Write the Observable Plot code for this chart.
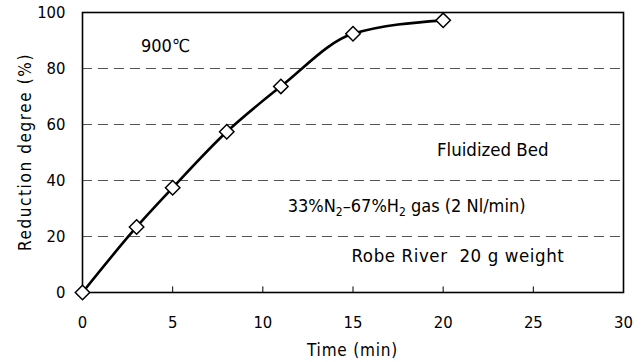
<!DOCTYPE html>
<html><head><meta charset="utf-8">
<script src="https://cdn.jsdelivr.net/npm/d3@7"></script>
<script src="https://cdn.jsdelivr.net/npm/@observablehq/plot@0.6"></script>
<style>
body{margin:0;background:#fff;}
svg{font-family:"DejaVu Sans Condensed","Liberation Sans",sans-serif;}
</style>
</head><body>
<div id="chart"></div>
<script>
const time = [0, 3, 5, 8, 11, 15, 20];
const reduction = [0, 23.4, 37.4, 57.4, 73.6, 92.4, 97.2];
const xTicks = [0, 5, 10, 15, 20, 25, 30];
const yTicks = [0, 20, 40, 60, 80, 100];
const gridY = [20, 40, 60, 80];
const tickMarksX = [5, 10, 15, 20, 25];

const data = time.map((t, i) => ({t, r: reduction[i]}));

const chart = Plot.plot({
  width: 642, height: 362,
  marginLeft: 82, marginRight: 19, marginTop: 12, marginBottom: 70,
  style: {fontSize: "16px", color: "black", background: "white"},
  x: {domain: [0, 30], ticks: xTicks},
  y: {domain: [0, 100], ticks: yTicks},
  marks: [
    Plot.ruleY(gridY, {stroke: "#555", strokeDasharray: "10,6", strokeWidth: 1}),
    Plot.ruleX(tickMarksX, {y1: 0, y2: 2, stroke: "black", strokeWidth: 1}),
    Plot.frame({stroke: "black", strokeWidth: 1.6}),
    Plot.axisX({ticks: xTicks, tickSize: 0, tickPadding: 24, fontSize: 16.5,
      label: null}),
    Plot.axisY({ticks: yTicks, tickSize: 0, tickPadding: 17, fontSize: 16.5,
      label: null}),
    Plot.line(data, {x: "t", y: "r", curve: "monotone-x", stroke: "black", strokeWidth: 2.6}),
    Plot.dot(data, {x: "t", y: "r", symbol: "diamond2", r: 6.5, fill: "white", stroke: "black", strokeWidth: 1.5}),
    Plot.text(["900℃"], {x: 4.6, y: 88, text: d => d, fontSize: 18}),
    Plot.text(["Fluidized Bed"], {x: 22.75, y: 50.7, text: d => d, fontSize: 18.5, letterSpacing: 0.5})
  ]
});

const svg = d3.select(chart);
document.getElementById("chart").appendChild(chart);

const xs = d3.scaleLinear().domain([0, 30]).range([82, 623]);
const ys = d3.scaleLinear().domain([0, 100]).range([292, 12]);

// axis titles
svg.append("text")
  .attr("x", xs(15)).attr("y", 356).attr("text-anchor", "middle")
  .attr("font-size", 17).attr("letter-spacing", 0.8).attr("fill", "black")
  .text("Time (min)");
svg.append("text")
  .attr("transform", `translate(31,${ys(50)}) rotate(-90)`)
  .attr("text-anchor", "middle")
  .attr("font-size", 17).attr("letter-spacing", 1.6).attr("fill", "black")
  .text("Reduction degree (%)");

const gas = svg.append("text")
  .attr("x", xs(18.0)).attr("y", ys(28.6)).attr("text-anchor", "middle")
  .attr("font-size", 18).attr("fill", "black");
gas.append("tspan").text("33%N");
gas.append("tspan").attr("font-size", 12).attr("dy", 4).text("2");
gas.append("tspan").attr("dy", -4).text("–67%H");
gas.append("tspan").attr("font-size", 12).attr("dy", 4).text("2");
gas.append("tspan").attr("dy", -4).text(" gas (2 Nl/min)");

svg.append("text")
  .attr("x", xs(20.85)).attr("y", ys(10.7)).attr("text-anchor", "middle")
  .attr("font-size", 18.5).attr("letter-spacing", 0.6).attr("fill", "black")
  .attr("xml:space", "preserve").style("white-space", "pre")
  .text("Robe River  20 g weight");
</script>
</body></html>
